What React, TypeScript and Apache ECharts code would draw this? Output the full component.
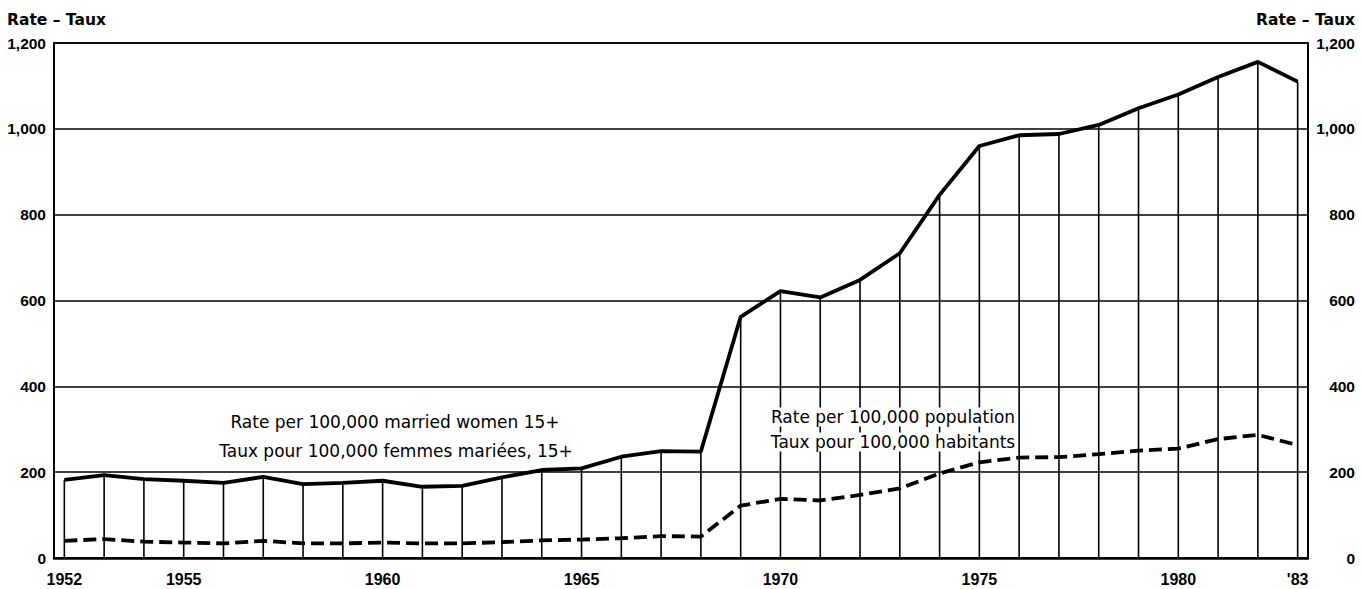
import React, { useEffect, useRef } from "react";
import * as echarts from "echarts";

const years = [1952,1953,1954,1955,1956,1957,1958,1959,1960,1961,1962,1963,1964,1965,1966,1967,1968,1969,1970,1971,1972,1973,1974,1975,1976,1977,1978,1979,1980,1981,1982,1983];
const marriedWomenRate = [182,193,184,180,175,189,172,175,180,166,168,188,205,209,236,249,248,562,622,607,648,710,846,960,985,988,1009,1048,1080,1121,1156,1110];
const populationRate = [40,44,38,36,34,40,34,34,36,34,34,37,41,43,46,51,50,122,138,134,147,162,197,223,234,235,242,250,255,277,287,263];
const xLabelValues = [1952,1955,1960,1965,1970,1975,1980,1983];
const yTicks = [0,200,400,600,800,1000,1200];

const TICK_FONT = "'Liberation Sans', Arial, sans-serif";
const TEXT_FONT = "'DejaVu Sans', sans-serif";

export default function App() {
  const ref = useRef<HTMLDivElement>(null);
  useEffect(() => {
    if (!ref.current) return;
    const chart = echarts.init(ref.current, null, { renderer: "svg" });
    const solid = years.map((y, i) => [y, marriedWomenRate[i]]);
    const dashed = years.map((y, i) => [y, populationRate[i]]);
    const yFmt = (v: number) => v.toLocaleString("en-US");
    chart.setOption({
      animation: false,
      backgroundColor: "#fff",
      grid: { left: 54, right: 54, top: 43, bottom: 31, show: true, borderColor: "#000", borderWidth: 1.5 },
      xAxis: {
        type: "value",
        min: 1951.74,
        max: 1983.26,
        axisLine: { show: true, lineStyle: { color: "#000", width: 2.5 } },
        axisTick: { show: false },
        splitLine: { show: false },
        axisLabel: {
          customValues: xLabelValues,
          formatter: (v: number) => (v === 1983 ? "'83" : String(v)),
          color: "#000",
          fontFamily: TICK_FONT,
          fontWeight: "bold",
          fontSize: 16,
          margin: 13,
        },
      },
      yAxis: [
        {
          type: "value",
          min: yTicks[0],
          max: yTicks[yTicks.length - 1],
          interval: 200,
          position: "left",
          axisLine: { show: true, lineStyle: { color: "#000", width: 2 } },
          axisTick: { show: false },
          splitLine: { show: true, lineStyle: { color: "#000", width: 1.5 } },
          axisLabel: { formatter: yFmt, color: "#000", fontFamily: TICK_FONT, fontWeight: "bold", fontSize: 15.5, margin: 8 },
        },
        {
          type: "value",
          min: yTicks[0],
          max: yTicks[yTicks.length - 1],
          interval: 200,
          position: "right",
          axisLine: { show: true, lineStyle: { color: "#000", width: 2 } },
          axisTick: { show: false },
          splitLine: { show: false },
          axisLabel: {
            formatter: yFmt,
            color: "#000",
            fontFamily: TICK_FONT,
            fontWeight: "bold",
            fontSize: 15.5,
            margin: 47,
            align: "right",
            padding: [6, 0, 0, 0],
          },
        },
      ],
      series: [
        {
          type: "custom",
          data: solid,
          encode: { x: 0, y: 1 },
          z: 1,
          renderItem: (params: any, api: any) => {
            const x = api.value(0);
            const y = api.value(1);
            const p0 = api.coord([x, 0]);
            const p1 = api.coord([x, y]);
            return {
              type: "line",
              shape: { x1: p0[0], y1: p0[1], x2: p1[0], y2: p1[1] },
              style: { stroke: "#000", lineWidth: 1.6 },
            };
          },
        },
        {
          type: "line",
          data: solid,
          symbol: "none",
          z: 3,
          lineStyle: { color: "#000", width: 3.8 },
        },
        {
          type: "line",
          data: dashed,
          symbol: "none",
          z: 3,
          lineStyle: { color: "#000", width: 3.8, type: [13, 6] },
        },
      ],
      graphic: [
        { type: "text", x: 7, y: 20, style: { text: "Rate \u2013 Taux", fill: "#000", font: `bold 15.5px ${TEXT_FONT}`, align: "left", verticalAlign: "middle" } },
        { type: "text", x: 1355, y: 20, style: { text: "Rate \u2013 Taux", fill: "#000", font: `bold 15.5px ${TEXT_FONT}`, align: "right", verticalAlign: "middle" } },
        { type: "text", x: 395, y: 422, z: 20, style: { text: "Rate per 100,000 married women 15+", fill: "#000", font: `17px ${TEXT_FONT}`, align: "center", verticalAlign: "middle" } },
        { type: "text", x: 396, y: 451, z: 20, style: { text: "Taux pour 100,000 femmes mari\u00e9es, 15+", fill: "#000", font: `17px ${TEXT_FONT}`, align: "center", verticalAlign: "middle" } },
        { type: "text", x: 893, y: 417, z: 20, style: { text: "Rate per 100,000 population", fill: "#000", font: `17px ${TEXT_FONT}`, align: "center", verticalAlign: "middle", backgroundColor: "#fff", padding: [1, 2] } },
        { type: "text", x: 893, y: 442, z: 20, style: { text: "Taux pour 100,000 habitants", fill: "#000", font: `17px ${TEXT_FONT}`, align: "center", verticalAlign: "middle", backgroundColor: "#fff", padding: [1, 2] } },
      ],
    });
    return () => chart.dispose();
  }, []);
  return <div ref={ref} style={{ position: "absolute", left: 0, top: 0, width: 1362, height: 589 }} />;
}
